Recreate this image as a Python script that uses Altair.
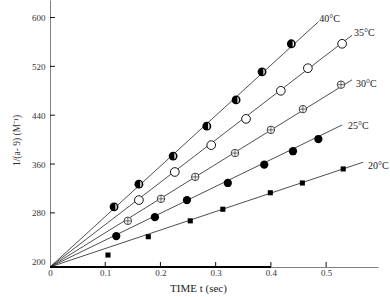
import altair as alt
import pandas as pd

# Measured rates: elapsed time t (sec) and 1/(a-x) (M^-1) for each temperature
series = ["40°C", "35°C", "30°C", "25°C", "20°C"]

t40 = [0.116, 0.161, 0.223, 0.284, 0.337, 0.384, 0.437]
v40 = [290, 327, 373, 422, 465, 511, 557]
t35 = [0.161, 0.226, 0.292, 0.355, 0.418, 0.467, 0.529]
v35 = [301, 347, 391, 434, 480, 517, 557]
t30 = [0.141, 0.201, 0.263, 0.335, 0.400, 0.458, 0.527]
v30 = [267, 303, 339, 378, 416, 450, 490]
t25 = [0.120, 0.190, 0.248, 0.322, 0.388, 0.440, 0.486]
v25 = [242, 273, 301, 329, 359, 381, 401]
t20 = [0.105, 0.178, 0.254, 0.313, 0.399, 0.457, 0.531]
v20 = [211, 241, 267, 286, 313, 329, 352]

# Fitted straight lines: common origin and end point of each line
line_t0 = 0.0
line_v0 = 191.4
line_t_end = [0.486, 0.547, 0.547, 0.529, 0.567]
line_v_end = [593, 571, 498, 424, 363]

x_ticks = [0, 0.1, 0.2, 0.3, 0.4, 0.5]
y_ticks = [200, 280, 360, 440, 520, 600]

W, H = 328, 267
FONT = "Liberation Serif"

xs = alt.Scale(domain=[0, 0.594], nice=False, zero=False)
ys = alt.Scale(domain=[191.4, 628.7], nice=False, zero=False)

points = {
    "40°C": pd.DataFrame({"t": t40, "v": v40}),
    "35°C": pd.DataFrame({"t": t35, "v": v35}),
    "30°C": pd.DataFrame({"t": t30, "v": v30}),
    "25°C": pd.DataFrame({"t": t25, "v": v25}),
    "20°C": pd.DataFrame({"t": t20, "v": v20}),
}

lines_df = pd.DataFrame(
    [{"series": s, "t": line_t0, "v": line_v0, "o": 0} for s in series]
    + [{"series": s, "t": te, "v": ve, "o": 1}
       for s, te, ve in zip(series, line_t_end, line_v_end)]
)

X = alt.X(
    "t:Q", scale=xs,
    axis=alt.Axis(
        values=x_ticks, format=".1~f", title="TIME t (sec)",
        ticks=False, grid=False, labelFlush=False, labelPadding=1,
        domainColor="#808080", domainWidth=1,
        labelFont=FONT, labelFontSize=9, labelColor="#333333",
        titleFont=FONT, titleFontSize=11, titleFontWeight="normal",
        titleColor="#222222", titleX=148, titleY=15,
        titleAlign="center", titleBaseline="top",
    ),
)
Y = alt.Y(
    "v:Q", scale=ys,
    axis=alt.Axis(
        values=y_ticks, title="1/(a- 9)  (M⁻¹)",
        ticks=False, grid=False, labelPadding=5,
        domainColor="#808080", domainWidth=1,
        labelFont=FONT, labelFontSize=9, labelColor="#333333",
        titleFont=FONT, titleFontSize=9.5, titleFontWeight="normal",
        titleColor="#333333", titleX=-34, titleY=140, titleAngle=270,
        titleAlign="center", titleBaseline="middle",
    ),
)

fit_lines = alt.Chart(lines_df).mark_line(color="#222222", strokeWidth=0.8).encode(
    x=X, y=Y, detail="series:N", order="o:Q"
)

# Inward tick marks on both axes
xtick_df = pd.DataFrame({"t": x_ticks[1:]})
ytick_df = pd.DataFrame({"v": y_ticks[1:]})
x_tick_marks = alt.Chart(xtick_df).mark_rule(color="#111111", strokeWidth=1).encode(
    x=alt.X("t:Q", scale=xs), y=alt.value(H - 5), y2=alt.value(H)
)
y_tick_marks = alt.Chart(ytick_df).mark_rule(color="#111111", strokeWidth=1).encode(
    y=alt.Y("v:Q", scale=ys), x=alt.value(0), x2=alt.value(5)
)
x_base = alt.Chart(pd.DataFrame({"a": [0]})).mark_rule(color="#000000", strokeWidth=1.8).encode(
    x=alt.datum(0, scale=xs), x2=alt.datum(0.4), y=alt.value(H)
)

def pts(name):
    return alt.Chart(points[name]).encode(
        x=alt.X("t:Q", scale=xs), y=alt.Y("v:Q", scale=ys)
    )

white_sliver = "M0.3,-0.7 A0.32,0.7 0 0,1 0.3,0.7 Z"
cross = "M-1,0L1,0M0,-1L0,1"

m40a = pts("40°C").mark_point(shape="circle", size=78, filled=True, color="#000000", opacity=1)
m40b = pts("40°C").mark_point(shape=white_sliver, size=78, filled=True, color="#ffffff", opacity=1)
m35 = pts("35°C").mark_point(shape="circle", size=76, filled=True, fill="#ffffff",
                              stroke="#111111", strokeWidth=1, opacity=1)
m30a = pts("30°C").mark_point(shape="circle", size=56, filled=True, fill="#ffffff",
                               stroke="#444444", strokeWidth=1, opacity=1)
m30b = pts("30°C").mark_point(shape=cross, size=56, filled=False, color="#444444",
                               strokeWidth=0.8, opacity=1)
m25 = pts("25°C").mark_point(shape="circle", size=68, filled=True, color="#000000", opacity=1)
m20 = pts("20°C").mark_point(shape="square", size=26, filled=True, color="#000000", opacity=1)

# Temperature labels at the end of each fitted line
label_offsets = [(1, -3), (2, -2), (4, 4), (6, 1), (5, 4)]
labels = []
for s, te, ve, (dx, dy) in zip(series, line_t_end, line_v_end, label_offsets):
    labels.append(
        alt.Chart(pd.DataFrame({"t": [te], "v": [ve], "lab": [s]}))
        .mark_text(align="left", baseline="middle", dx=dx, dy=dy,
                   font=FONT, fontSize=10, color="#222222")
        .encode(x=alt.X("t:Q", scale=xs), y=alt.Y("v:Q", scale=ys), text="lab:N")
    )

chart = alt.layer(
    fit_lines, x_base, x_tick_marks, y_tick_marks,
    m40a, m40b, m35, m30a, m30b, m25, m20, *labels
).properties(
    width=W, height=H,
    padding={"left": 50, "top": 0, "right": 12, "bottom": 30},
    autosize="none",
    background="#ffffff",
).configure_view(stroke=None)

chart.save("out.html", embed_options={"renderer": "svg", "actions": False})
